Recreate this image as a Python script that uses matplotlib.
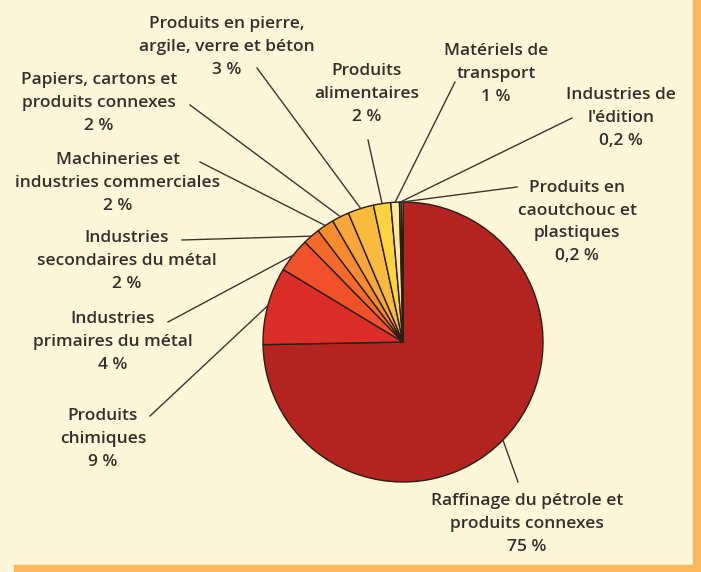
import matplotlib.pyplot as plt
import numpy as np

# Répartition par secteur (%)
secteurs = [
    "Raffinage du pétrole et\nproduits connexes",
    "Produits\nchimiques",
    "Industries\nprimaires du métal",
    "Industries\nsecondaires du métal",
    "Machineries et\nindustries commerciales",
    "Papiers, cartons et\nproduits connexes",
    "Produits en pierre,\nargile, verre et béton",
    "Produits\nalimentaires",
    "Matériels de\ntransport",
    "Industries de\nl'édition",
    "Produits en\ncaoutchouc et\nplastiques",
]
valeurs = [75, 9, 4, 2, 2, 2, 3, 2, 1, 0.2, 0.2]
etiquettes_pct = ["75 %", "9 %", "4 %", "2 %", "2 %", "2 %", "3 %", "2 %", "1 %", "0,2 %", "0,2 %"]

couleurs = ["#b3231f", "#dc2e29", "#f0502a", "#f46a2b", "#f68c2e", "#f8a83a",
            "#f8bb3e", "#fad33f", "#fbe9a2", "#fffbe8", "#ffffff"]

# layout (pixels, origin top-left): text centre and leader start
W, H = 701, 572
centre_px = (403, 342)
rayon = 140
pos_texte = [(527, 524), (103, 439), (113, 342), (127, 261), (118, 183), (99, 103),
             (227, 47), (367, 94), (496, 74), (621, 118), (577, 222)]
debut_trait = [(518, 482), (150, 416), (168, 322), (182, 240), (200, 162), (190, 105),
               (257, 68), (368, 140), (455, 82), (572, 118), (517, 187)]


def py(y):
    return H - y


fig = plt.figure(figsize=(W / 100, H / 100), dpi=100)
fig.patch.set_facecolor("#fef6d8")
ax = fig.add_axes([0, 0, 1, 1])
ax.set_facecolor("#fef6d8")

wedges, _ = ax.pie(valeurs, colors=couleurs, startangle=90, counterclock=False,
                   center=(centre_px[0], py(centre_px[1])), radius=rayon,
                   wedgeprops=dict(edgecolor="#2a1d14", linewidth=1.0))

cx, cy = centre_px[0], py(centre_px[1])
for i, w in enumerate(wedges):
    ang = np.deg2rad((w.theta1 + w.theta2) / 2)
    ex = cx + rayon * np.cos(ang)
    ey = cy + rayon * np.sin(ang)
    sx, sy = debut_trait[i]
    ax.plot([sx, ex], [py(sy), ey], color="#3b3631", lw=1.0, zorder=1)
    tx, ty = pos_texte[i]
    ax.text(tx, py(ty), secteurs[i] + "\n" + etiquettes_pct[i], ha="center", va="center",
            multialignment="center", fontsize=12.5, linespacing=1.55,
            family="Open Sans", fontweight="semibold", color="#33302c")

# orange frame on right and bottom
ax.add_patch(plt.Rectangle((693, 0), 8, H, color="#fbb75c", zorder=5))
ax.add_patch(plt.Rectangle((14, 0), W, 7, color="#fbb75c", zorder=5))

ax.set_xlim(0, W)
ax.set_ylim(0, H)
ax.axis("off")

fig.savefig("out.png", dpi=100, facecolor=fig.get_facecolor())
